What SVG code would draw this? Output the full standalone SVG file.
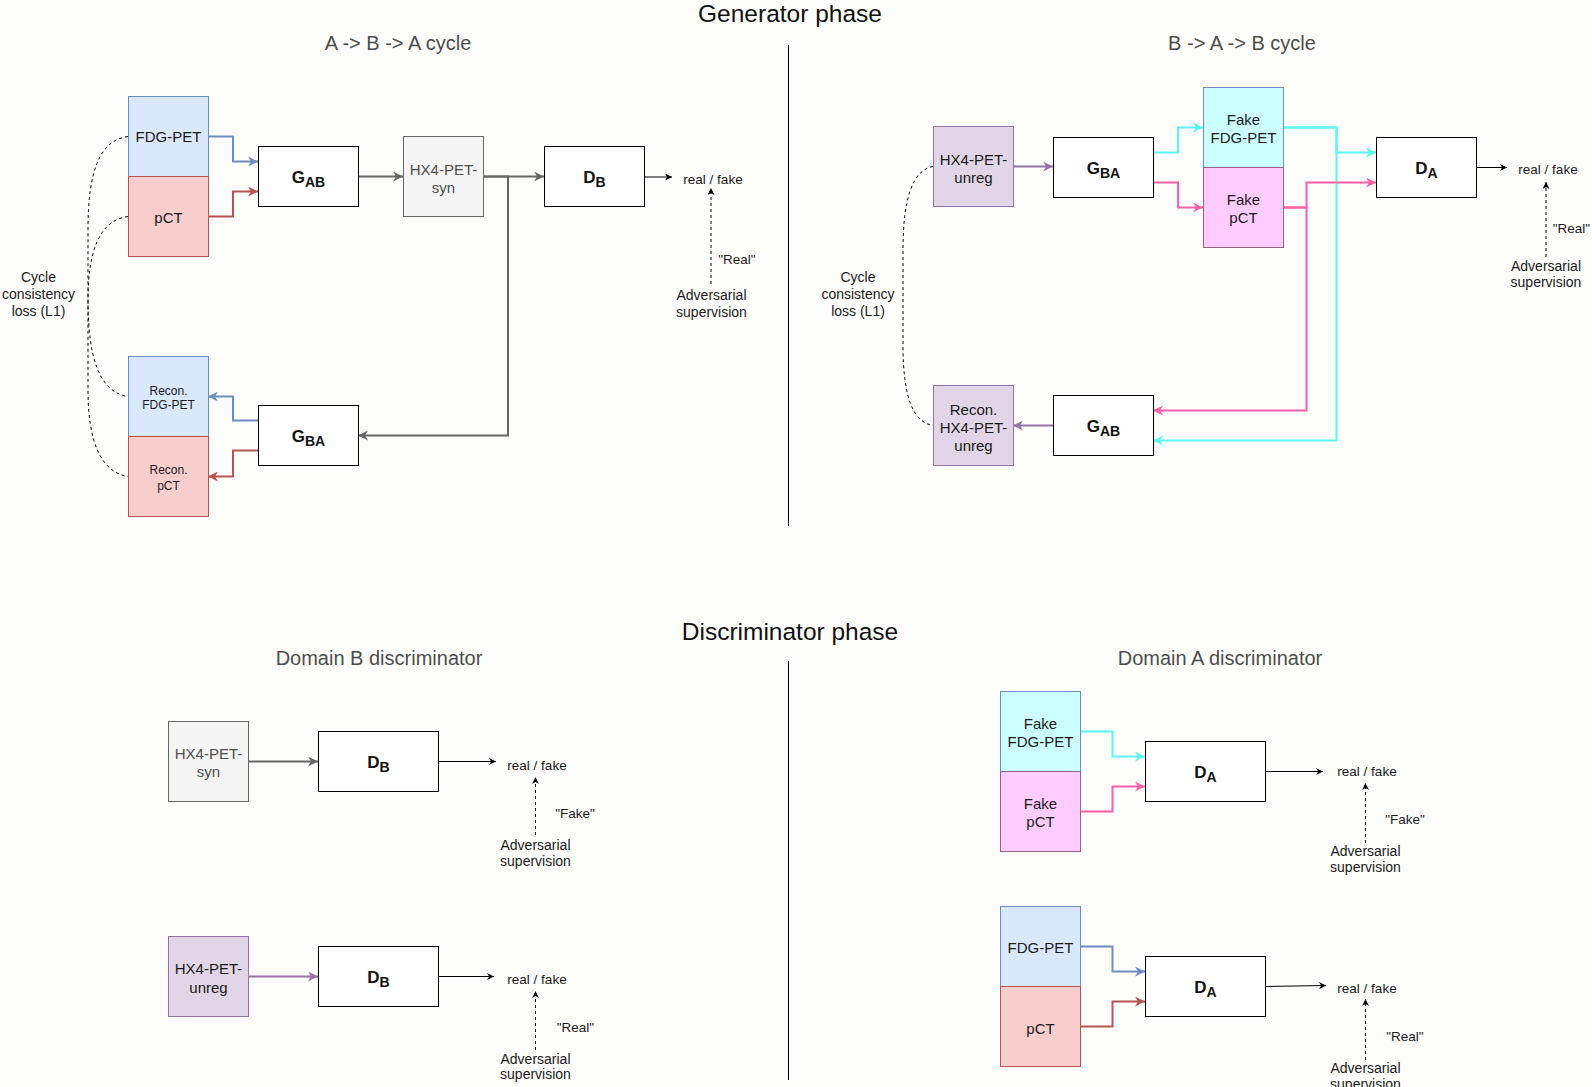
<svg xmlns="http://www.w3.org/2000/svg" width="1592" height="1087" viewBox="0 0 1592 1087">
<style>
text{font-family:"Liberation Sans",Arial,Helvetica,sans-serif;fill:#1a1a1a}
.title{font-size:24.5px;fill:#111;text-anchor:middle}
.sub{font-size:20px;fill:#4d4d4d;text-anchor:middle}
.lbl{font-size:15px;text-anchor:middle}
.lblg{font-size:15px;text-anchor:middle;fill:#4d4d4d}
.sm{font-size:12px;text-anchor:middle}
.note{font-size:14px;text-anchor:middle}
.rf{font-size:13.5px;text-anchor:middle}
.gen{font-size:17px;font-weight:bold;text-anchor:middle;fill:#111}
.gen tspan.s{font-size:14px}
.box{fill:#fff;stroke:#000;stroke-width:1}
.blue{fill:#dae8fc;stroke:#6c8ebf}
.red{fill:#f8cecc;stroke:#b85450}
.grey{fill:#f5f5f5;stroke:#666}
.purp{fill:#e1d5e7;stroke:#9673a6}
.cyanb{fill:#ccffff;stroke:#6c8ebf}
.pinkb{fill:#ffccff;stroke:#996185}
.e{fill:none;stroke-width:2}
.eb{stroke:#6c8ebf;marker-end:url(#mBlue)}
.er{stroke:#b85450;marker-end:url(#mRed)}
.eg{stroke:#666;marker-end:url(#mGray)}
.ep{stroke:#9673a6;marker-end:url(#mPurp)}
.ec{stroke:#5cf5f5;marker-end:url(#mCyan)}
.ek{stroke:#ff5fa8;marker-end:url(#mPink)}
.blk{fill:none;stroke:#000;stroke-width:1;marker-end:url(#mBlk)}
.dsh{fill:none;stroke:#000;stroke-width:1;stroke-dasharray:3 3;marker-end:url(#mBlk)}
.cyc{fill:none;stroke:#000;stroke-width:1;stroke-dasharray:3 3}
.div{stroke:#000;stroke-width:1}
</style>
<defs>
<marker id="mBlue" viewBox="0 0 10 10" refX="10" refY="5" markerWidth="11" markerHeight="10" markerUnits="userSpaceOnUse" orient="auto"><path d="M0,0 L10,5 L0,10 L3,5 z" fill="#6c8ebf"/></marker>
<marker id="mRed" viewBox="0 0 10 10" refX="10" refY="5" markerWidth="11" markerHeight="10" markerUnits="userSpaceOnUse" orient="auto"><path d="M0,0 L10,5 L0,10 L3,5 z" fill="#b85450"/></marker>
<marker id="mGray" viewBox="0 0 10 10" refX="10" refY="5" markerWidth="11" markerHeight="10" markerUnits="userSpaceOnUse" orient="auto"><path d="M0,0 L10,5 L0,10 L3,5 z" fill="#666"/></marker>
<marker id="mPurp" viewBox="0 0 10 10" refX="10" refY="5" markerWidth="11" markerHeight="10" markerUnits="userSpaceOnUse" orient="auto"><path d="M0,0 L10,5 L0,10 L3,5 z" fill="#9673a6"/></marker>
<marker id="mCyan" viewBox="0 0 10 10" refX="10" refY="5" markerWidth="11" markerHeight="10" markerUnits="userSpaceOnUse" orient="auto"><path d="M0,0 L10,5 L0,10 L3,5 z" fill="#5cf5f5"/></marker>
<marker id="mPink" viewBox="0 0 10 10" refX="10" refY="5" markerWidth="11" markerHeight="10" markerUnits="userSpaceOnUse" orient="auto"><path d="M0,0 L10,5 L0,10 L3,5 z" fill="#ff5fa8"/></marker>
<marker id="mBlk" viewBox="0 0 10 10" refX="10" refY="5" markerWidth="8" markerHeight="7" markerUnits="userSpaceOnUse" orient="auto"><path d="M0,0 L10,5 L0,10 L3,5 z" fill="#000"/></marker>
</defs>
<rect x="0" y="0" width="1592" height="1087" fill="#fdfdfb"/>

<!-- titles -->
<g id="titles">
<text class="title" x="790" y="22">Generator phase</text>
<text class="sub" x="398" y="50">A -&gt; B -&gt; A cycle</text>
<text class="sub" x="1242" y="50">B -&gt; A -&gt; B cycle</text>
<text class="title" x="790" y="640">Discriminator phase</text>
<text class="sub" x="379" y="665">Domain B discriminator</text>
<text class="sub" x="1220" y="665">Domain A discriminator</text>
<line class="div" x1="788.5" y1="45" x2="788.5" y2="526"/>
<line class="div" x1="788.5" y1="661" x2="788.5" y2="1080"/>
</g>

<!-- connectors -->
<g id="connectors">
<!-- top left -->
<polyline class="e eb" points="208,136.5 233,136.5 233,161.5 258,161.5"/>
<polyline class="e er" points="208,216.5 233,216.5 233,191.5 258,191.5"/>
<polyline class="e eg" points="358,176.5 403,176.5"/>
<polyline class="e eg" points="483,176.5 544,176.5"/>
<polyline class="e eg" points="483,176.5 508,176.5 508,435.5 358,435.5"/>
<polyline class="e eb" points="258,420.5 233,420.5 233,396.5 208,396.5"/>
<polyline class="e er" points="258,450.5 233,450.5 233,476.5 208,476.5"/>
<polyline class="blk" points="644,177 672,177"/>
<polyline class="dsh" points="711,284 711,188"/>
<path class="cyc" d="M128,136.5 C100,140 88,170 88,230 L88,300 C88,360 100,392 128,396.5"/>
<path class="cyc" d="M128,216.5 C100,220 88,250 88,300 L88,390 C88,440 100,472 128,476.5"/>
<!-- top right -->
<polyline class="e ep" points="1013,166.5 1053,166.5"/>
<polyline class="e ec" points="1153,152.5 1178,152.5 1178,127.5 1203,127.5"/>
<polyline class="e ek" points="1153,182.5 1178,182.5 1178,207.5 1203,207.5"/>
<polyline class="e ec" points="1283,127.5 1336.5,127.5 1336.5,152.5 1376,152.5"/>
<polyline class="e ec" points="1283,127.5 1336.5,127.5 1336.5,440.5 1153,440.5"/>
<polyline class="e ek" points="1283,207.5 1306.5,207.5 1306.5,182.5 1376,182.5"/>
<polyline class="e ek" points="1283,207.5 1306.5,207.5 1306.5,410.5 1153,410.5"/>
<polyline class="e ep" points="1053,425.5 1013,425.5"/>
<polyline class="blk" points="1477,167.5 1507,167.5"/>
<polyline class="dsh" points="1546,257 1546,182"/>
<path class="cyc" d="M933,166.5 C912,170 903,200 903,250 L903,345 C903,395 912,422 933,425.5"/>
<!-- bottom left -->
<polyline class="e eg" points="248,761.5 318,761.5"/>
<polyline class="blk" points="438,761.5 496,761.5"/>
<polyline class="dsh" points="535.5,835 535.5,777"/>
<polyline class="e ep" points="248,976.5 318,976.5"/>
<polyline class="blk" points="438,976.5 494,976.5"/>
<polyline class="dsh" points="535.5,1050 535.5,991"/>
<!-- bottom right -->
<polyline class="e ec" points="1080,731.5 1112.5,731.5 1112.5,756.5 1145,756.5"/>
<polyline class="e ek" points="1080,811.5 1112.5,811.5 1112.5,786.5 1145,786.5"/>
<polyline class="blk" points="1265,771.5 1323,771.5"/>
<polyline class="dsh" points="1365.5,843 1365.5,783"/>
<polyline class="e eb" points="1080,946.5 1112.5,946.5 1112.5,971.5 1145,971.5"/>
<polyline class="e er" points="1080,1026.5 1112.5,1026.5 1112.5,1001.5 1145,1001.5"/>
<polyline class="blk" points="1265,986.5 1326,985.5"/>
<polyline class="dsh" points="1365.5,1060 1365.5,999"/>
</g>

<!-- top left nodes -->
<g id="tl-fdg"><rect class="blue" x="128.5" y="96.5" width="80" height="80"/><text class="lbl" x="168.5" y="142">FDG-PET</text></g>
<g id="tl-pct"><rect class="red" x="128.5" y="176.5" width="80" height="80"/><text class="lbl" x="168.5" y="222.5">pCT</text></g>
<g id="tl-gab"><rect class="box" x="258.5" y="146.5" width="100" height="60"/><text class="gen" x="308.5" y="182.5">G<tspan class="s" dy="4">AB</tspan></text></g>
<g id="tl-syn"><rect class="grey" x="403.5" y="136.5" width="80" height="80"/><text class="lblg" x="443.5" y="174.5">HX4-PET-</text><text class="lblg" x="443.5" y="192.5">syn</text></g>
<g id="tl-db"><rect class="box" x="544.5" y="146.5" width="100" height="60"/><text class="gen" x="594.5" y="182.5">D<tspan class="s" dy="4">B</tspan></text></g>
<g id="tl-rf"><text class="rf" x="713" y="183.5">real / fake</text></g>
<g id="tl-sup"><text class="rf" x="737" y="264">"Real"</text><text class="note" x="711.5" y="300">Adversarial</text><text class="note" x="711.5" y="316.5">supervision</text></g>
<g id="tl-cyc"><text class="note" x="38.5" y="281.5">Cycle</text><text class="note" x="38.5" y="298.5">consistency</text><text class="note" x="38.5" y="315.5">loss (L1)</text></g>
<g id="tl-rfdg"><rect class="blue" x="128.5" y="356.5" width="80" height="80"/><text class="sm" x="168.5" y="394.5">Recon.</text><text class="sm" x="168.5" y="409">FDG-PET</text></g>
<g id="tl-rpct"><rect class="red" x="128.5" y="436.5" width="80" height="80"/><text class="sm" x="168.5" y="474">Recon.</text><text class="sm" x="168.5" y="489.5">pCT</text></g>
<g id="tl-gba"><rect class="box" x="258.5" y="405.5" width="100" height="60"/><text class="gen" x="308.5" y="441.5">G<tspan class="s" dy="4">BA</tspan></text></g>

<!-- top right nodes -->
<g id="tr-unreg"><rect class="purp" x="933.5" y="126.5" width="80" height="80"/><text class="lbl" x="973.5" y="164.5">HX4-PET-</text><text class="lbl" x="973.5" y="182.5">unreg</text></g>
<g id="tr-gba"><rect class="box" x="1053.5" y="137.5" width="100" height="60"/><text class="gen" x="1103.5" y="173.5">G<tspan class="s" dy="4">BA</tspan></text></g>
<g id="tr-ffdg"><rect class="cyanb" x="1203.5" y="87.5" width="80" height="80"/><text class="lbl" x="1243.5" y="125">Fake</text><text class="lbl" x="1243.5" y="143">FDG-PET</text></g>
<g id="tr-fpct"><rect class="pinkb" x="1203.5" y="167.5" width="80" height="80"/><text class="lbl" x="1243.5" y="204.5">Fake</text><text class="lbl" x="1243.5" y="223">pCT</text></g>
<g id="tr-da"><rect class="box" x="1376.5" y="137.5" width="100" height="60"/><text class="gen" x="1426.5" y="173.5">D<tspan class="s" dy="4">A</tspan></text></g>
<g id="tr-rf"><text class="rf" x="1548" y="174">real / fake</text></g>
<g id="tr-sup"><text class="rf" x="1571.5" y="233">"Real"</text><text class="note" x="1546" y="271">Adversarial</text><text class="note" x="1546" y="287">supervision</text></g>
<g id="tr-cyc"><text class="note" x="858" y="281.5">Cycle</text><text class="note" x="858" y="298.5">consistency</text><text class="note" x="858" y="315.5">loss (L1)</text></g>
<g id="tr-recon"><rect class="purp" x="933.5" y="385.5" width="80" height="80"/><text class="lbl" x="973.5" y="414.5">Recon.</text><text class="lbl" x="973.5" y="432.5">HX4-PET-</text><text class="lbl" x="973.5" y="450.5">unreg</text></g>
<g id="tr-gab"><rect class="box" x="1053.5" y="395.5" width="100" height="60"/><text class="gen" x="1103.5" y="431.5">G<tspan class="s" dy="4">AB</tspan></text></g>

<!-- bottom left nodes -->
<g id="bl-syn"><rect class="grey" x="168.5" y="721.5" width="80" height="80"/><text class="lblg" x="208.5" y="758.5">HX4-PET-</text><text class="lblg" x="208.5" y="777">syn</text></g>
<g id="bl-db1"><rect class="box" x="318.5" y="731.5" width="120" height="60"/><text class="gen" x="378.5" y="767.5">D<tspan class="s" dy="4">B</tspan></text></g>
<g id="bl-rf1"><text class="rf" x="537" y="770">real / fake</text><text class="rf" x="575" y="818">"Fake"</text><text class="note" x="535.5" y="850">Adversarial</text><text class="note" x="535.5" y="866">supervision</text></g>
<g id="bl-unreg"><rect class="purp" x="168.5" y="936.5" width="80" height="80"/><text class="lbl" x="208.5" y="973.5">HX4-PET-</text><text class="lbl" x="208.5" y="992.5">unreg</text></g>
<g id="bl-db2"><rect class="box" x="318.5" y="946.5" width="120" height="60"/><text class="gen" x="378.5" y="982.5">D<tspan class="s" dy="4">B</tspan></text></g>
<g id="bl-rf2"><text class="rf" x="537" y="984">real / fake</text><text class="rf" x="575.5" y="1032">"Real"</text><text class="note" x="535.5" y="1064">Adversarial</text><text class="note" x="535.5" y="1079">supervision</text></g>

<!-- bottom right nodes -->
<g id="br-ffdg"><rect class="cyanb" x="1000.5" y="691.5" width="80" height="80"/><text class="lbl" x="1040.5" y="728.5">Fake</text><text class="lbl" x="1040.5" y="747">FDG-PET</text></g>
<g id="br-fpct"><rect class="pinkb" x="1000.5" y="771.5" width="80" height="80"/><text class="lbl" x="1040.5" y="809">Fake</text><text class="lbl" x="1040.5" y="827">pCT</text></g>
<g id="br-da1"><rect class="box" x="1145.5" y="741.5" width="120" height="60"/><text class="gen" x="1205.5" y="777.5">D<tspan class="s" dy="4">A</tspan></text></g>
<g id="br-rf1"><text class="rf" x="1367" y="776">real / fake</text><text class="rf" x="1405" y="824">"Fake"</text><text class="note" x="1365.5" y="856">Adversarial</text><text class="note" x="1365.5" y="872">supervision</text></g>
<g id="br-fdg"><rect class="blue" x="1000.5" y="906.5" width="80" height="80"/><text class="lbl" x="1040.5" y="952.5">FDG-PET</text></g>
<g id="br-pct"><rect class="red" x="1000.5" y="986.5" width="80" height="80"/><text class="lbl" x="1040.5" y="1033.5">pCT</text></g>
<g id="br-da2"><rect class="box" x="1145.5" y="956.5" width="120" height="60"/><text class="gen" x="1205.5" y="992.5">D<tspan class="s" dy="4">A</tspan></text></g>
<g id="br-rf2"><text class="rf" x="1367" y="992.5">real / fake</text><text class="rf" x="1405" y="1041">"Real"</text><text class="note" x="1365.5" y="1073">Adversarial</text><text class="note" x="1365.5" y="1089">supervision</text></g>
</svg>
